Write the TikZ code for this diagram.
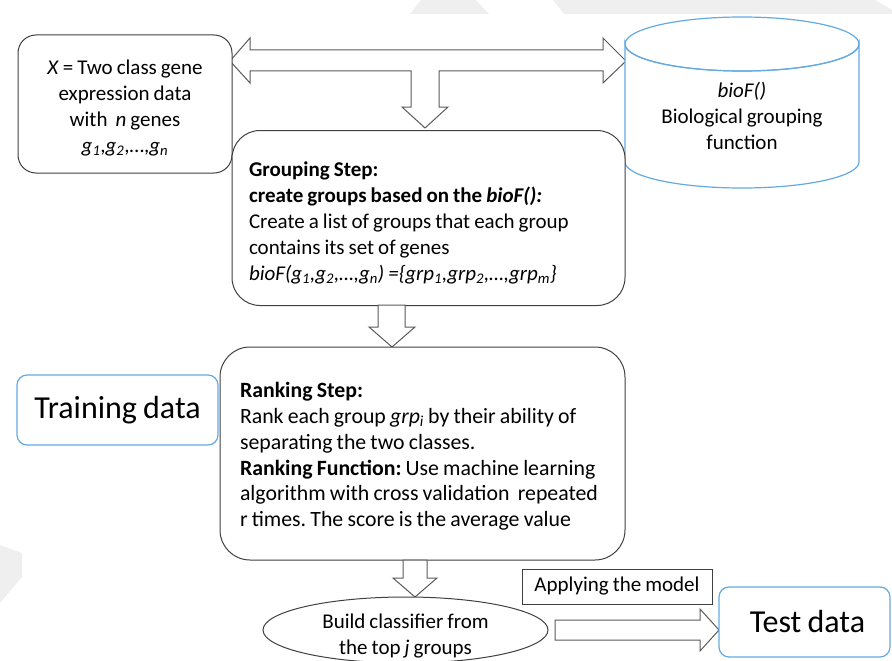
\documentclass[tikz,border=0pt]{standalone}
\usepackage{fontspec}
\setmainfont[WordSpace=0.85]{Carlito}
\usetikzlibrary{shapes.geometric}
\definecolor{boxgray}{RGB}{64,64,64}
\definecolor{arrgray}{RGB}{90,90,90}
\definecolor{boxblue}{RGB}{100,170,225}
\definecolor{wmgray}{RGB}{239,239,239}
\newcommand{\sbi}[2]{\textit{#1}\textsubscript{\textit{#2}}}
\begin{document}
\frenchspacing
\begin{tikzpicture}[x=1pt,y=-1pt,
  txt/.style={font=\fontsize{21}{26}\selectfont\frenchspacing},
  ranktxt/.style={font=\fontsize{21.8}{25.8}\selectfont\frenchspacing},
  bigtxt/.style={font=\fontsize{32}{38}\selectfont},
  graybox/.style={draw=boxgray,line width=1pt,fill=white,inner sep=0pt},
  bluebox/.style={draw=boxblue,line width=1.2pt,fill=white,rounded corners=10pt,inner sep=0pt},
  blockarrow/.style={draw=arrgray,line width=1pt,fill=white,line join=miter}
]
\useasboundingbox (0,0) rectangle (892,661);
% watermark shapes
\fill[wmgray] (410,14) -- (421,0) -- (476,0) -- (489,14) -- cycle;
\fill[wmgray] (553,0) -- (564,14) -- (892,14) -- (892,10) -- (875,0) -- cycle;
\fill[wmgray] (0,545) -- (22,553) -- (22,577) -- (0,603) -- cycle;

% T-shaped block arrow
\draw[blockarrow] (230,61) -- (250,38) -- (250,50) -- (603,50) -- (603,38) -- (626,61)
  -- (603,83) -- (603,71) -- (439,71) -- (439,107) -- (448,107) -- (425,128)
  -- (402,107) -- (411,107) -- (411,71) -- (250,71) -- (250,83) -- cycle;

% Box X
\node[graybox,txt,rounded corners=18pt,minimum width=214pt,minimum height=138pt,align=center]
  (xdata) at (125,104)
  {\rule{0pt}{23pt}\textit{X} = Two class gene\\expression data\\with\ \ \textit{n} genes\\
   \sbi{g}{1},\sbi{g}{2},…,\sbi{g}{n}};

% Cylinder
\draw[draw=boxblue,line width=1.2pt,fill=white] (625,44) -- (625,162)
  arc[start angle=180,end angle=0,x radius=117,y radius=26] -- (859,44)
  arc[start angle=0,end angle=180,x radius=117,y radius=27] -- cycle;
\draw[draw=boxblue,line width=1.2pt] (742,44) ellipse[x radius=117,y radius=27];
\node[txt,align=center] (biof) at (742,116)
  {\textit{bioF()}\\Biological grouping\\function};

% Grouping box
\node[graybox,txt,rounded corners=28pt,minimum width=393pt,minimum height=175pt,
  text width=359pt,inner xsep=17pt,align=flush left] (grp) at (428.5,218)
  {\rule{0pt}{24pt}\textbf{Grouping Step:}\\
   \textbf{create groups based on the \textit{bioF():}}\\
   Create a list of groups that each group\\
   contains its set of genes\\
   \textit{bioF(\sbi{g}{1},\sbi{g}{2},…,\sbi{g}{n}) =\{\sbi{grp}{1},\sbi{grp}{2},…,\sbi{grp}{m}\}}};

% arrow grouping -> ranking
\draw[blockarrow] (378,305) -- (405,305) -- (405,327) -- (415,327) -- (392,347)
  -- (369,327) -- (378,327) -- cycle;

% Ranking box
\node[graybox,ranktxt,rounded corners=30pt,minimum width=405pt,minimum height=213pt,
  text width=368pt,inner xsep=18.5pt,align=flush left] (rank) at (422.5,453.5)
  {\hspace*{1.5pt}\rule{0pt}{21pt}\textbf{Ranking Step:}\\
   \hspace*{1.5pt}Rank each group \sbi{grp}{i} by their ability of\\
   \hspace*{1.5pt}separating the two classes.\\
   \hspace*{1.5pt}\textbf{Ranking Function:} Use machine learning\\
   \hspace*{1.5pt}algorithm with cross validation\ \ repeated\\
   \hspace*{1.5pt}r times. The score is the average value};

% Training data
\node[bluebox,bigtxt,minimum width=201pt,minimum height=70pt] (train) at (117.5,410) {\raisebox{-2pt}{Training data}};

% arrow ranking -> classifier
\draw[blockarrow] (403,560) -- (427,560) -- (427,578) -- (437,578) -- (415,597)
  -- (393,578) -- (403,578) -- cycle;

% classifier ellipse
\node[draw=boxgray,line width=1pt,fill=white,ellipse,inner sep=0pt,minimum width=285pt,
  minimum height=66pt] (clf) at (405.5,630) {};
\node[txt,align=center] (clftext) at (405.5,636)
  {Build classifier from\\the top \textit{j} groups};

% Applying label
\node[draw=boxgray,line width=1pt,fill=white,minimum width=190pt,minimum height=35pt,
  inner sep=0pt,txt] (apply) at (617,586.5) {Applying the model};

% arrow classifier -> test
\draw[blockarrow] (555,620) -- (700,620) -- (700,609) -- (719,630) -- (700,651)
  -- (700,640) -- (555,640) -- cycle;

% Test data
\node[bluebox,bigtxt,minimum width=171pt,minimum height=70pt] (test) at (804.5,622) {\hspace*{6pt}Test data};
\end{tikzpicture}
\end{document}
